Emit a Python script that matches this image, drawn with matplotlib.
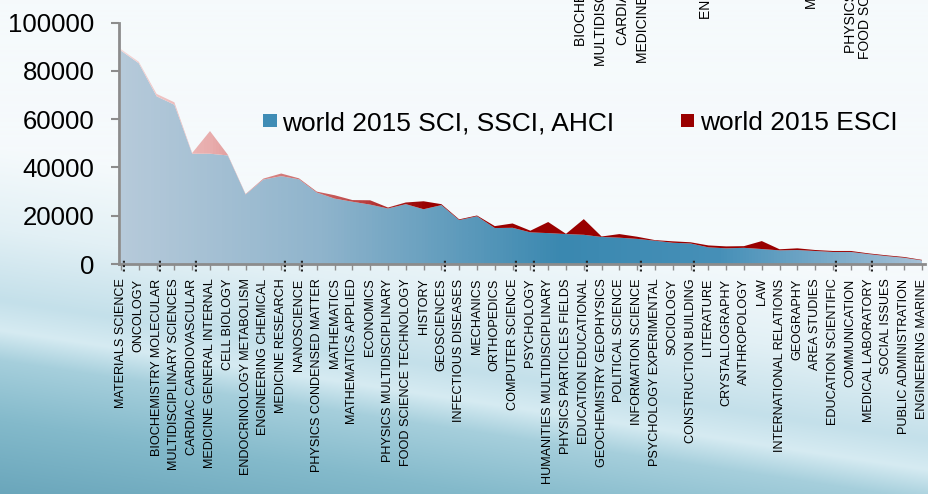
import numpy as np
import matplotlib

matplotlib.use("Agg")
import matplotlib.pyplot as plt
from matplotlib.colors import LinearSegmentedColormap, to_rgb
from matplotlib.patches import Rectangle

plt.rcParams["font.family"] = ["Liberation Sans", "DejaVu Sans"]

categories = [
    "MATERIALS SCIENCE…", "ONCOLOGY", "BIOCHEMISTRY MOLECULAR…",
    "MULTIDISCIPLINARY SCIENCES", "CARDIAC CARDIOVASCULAR…",
    "MEDICINE GENERAL INTERNAL", "CELL BIOLOGY", "ENDOCRINOLOGY METABOLISM",
    "ENGINEERING CHEMICAL", "MEDICINE RESEARCH…", "NANOSCIENCE…",
    "PHYSICS CONDENSED MATTER", "MATHEMATICS", "MATHEMATICS APPLIED",
    "ECONOMICS", "PHYSICS MULTIDISCIPLINARY", "FOOD SCIENCE TECHNOLOGY",
    "HISTORY", "GEOSCIENCES…", "INFECTIOUS DISEASES", "MECHANICS",
    "ORTHOPEDICS", "COMPUTER SCIENCE…", "PSYCHOLOGY…",
    "HUMANITIES MULTIDISCIPLINARY", "PHYSICS PARTICLES FIELDS",
    "EDUCATION EDUCATIONAL…", "GEOCHEMISTRY GEOPHYSICS", "POLITICAL SCIENCE",
    "INFORMATION SCIENCE…", "PSYCHOLOGY EXPERIMENTAL", "SOCIOLOGY",
    "CONSTRUCTION BUILDING…", "LITERATURE", "CRYSTALLOGRAPHY", "ANTHROPOLOGY",
    "LAW", "INTERNATIONAL RELATIONS", "GEOGRAPHY", "AREA STUDIES",
    "EDUCATION SCIENTIFIC…", "COMMUNICATION", "MEDICAL LABORATORY…",
    "SOCIAL ISSUES", "PUBLIC ADMINISTRATION", "ENGINEERING MARINE",
]
sci_values = [
    88400, 83200, 69500, 66000, 45700, 45700, 45000, 28800, 35000, 36400,
    35100, 29600, 27100, 25800, 24600, 23000, 24800, 22700, 24400, 18200,
    19800, 14900, 15000, 13100, 12800, 12400, 12100, 11200, 10900, 10400,
    9650, 8800, 8500, 6900, 6500, 6700, 6200, 5650, 5800, 5400,
    5000, 5000, 4100, 3300, 2600, 1500,
]
esci_values = [
    600, 600, 1000, 1000, 300, 9400, 300, 200, 400, 1100,
    400, 400, 1400, 700, 1800, 400, 700, 3300, 400, 300,
    300, 800, 1800, 700, 4600, 100, 6500, 200, 1500, 900,
    250, 600, 500, 800, 800, 700, 3300, 450, 700, 400,
    400, 400, 300, 300, 300, 200,
]
y_ticks = [0, 20000, 40000, 60000, 80000, 100000]
series_names = ["world 2015 SCI, SSCI, AHCI", "world 2015 ESCI"]
# labels of a neighbouring chart, cut off by the top edge of the picture
top_labels = [
    "BIOCHEMISTRY MOLECULAR BIOLOGY", "MULTIDISCIPLINARY SCIENCES",
    "CARDIAC CARDIOVASCULAR SYSTEMS", "MEDICINE GENERAL INTERNAL",
    "ENGINEERING CHEMICAL", "MATHEMATICS", "PHYSICS MULTIDISCIPLINARY",
    "FOOD SCIENCE TECHNOLOGY",
]

W, H = 929, 494
fig = plt.figure(figsize=(W / 100, H / 100), dpi=100)

# slide-like background: pale at the top, teal towards the bottom
bg = fig.add_axes([0, 0, 1, 1], zorder=0)
bg.axis("off")
yy, xx = np.mgrid[0:H, 0:W]
s = yy - 0.15 * xx
stop_pos = [150, 230, 300, 330, 360, 420, 494]
stop_col = ["#f5fafc", "#e2f0f5", "#c4e0ea", "#d6ebf2", "#a6cfdc", "#84bacb", "#6aa6bb"]
img = np.zeros((H, W, 3))
for c in range(3):
    img[..., c] = np.interp(s, stop_pos, [to_rgb(col)[c] for col in stop_col])
bg.imshow(img, extent=(0, W, H, 0), aspect="auto")
bg.set_xlim(0, W)
bg.set_ylim(H, 0)

ax = fig.add_axes([119 / W, (H - 264) / H, (925 - 119) / W, (264 - 22.7) / H], zorder=1)
ax.patch.set_alpha(0)

x = np.arange(len(categories))
sci = np.array(sci_values, dtype=float)
total = sci + np.array(esci_values, dtype=float)

blue_cmap = LinearSegmentedColormap.from_list(
    "blue", [(0, "#b6cada"), (0.25, "#8fb4cc"), (0.55, "#3a88b0"),
             (0.75, "#4690b8"), (1.0, "#a4c0d6")])
red_cmap = LinearSegmentedColormap.from_list(
    "red", [(0, "#f4d4d4"), (0.11, "#e8acac"), (0.29, "#bf4a4a"),
            (0.38, "#990000"), (1.0, "#990000")])

grad = np.linspace(0, 1, 256)[None, :]
for lower, upper, cmap in [(np.zeros_like(sci), sci, blue_cmap), (sci, total, red_cmap)]:
    poly = ax.fill_between(x, lower, upper, facecolor="none", edgecolor="none")
    im = ax.imshow(grad, cmap=cmap, extent=(x[0], x[-1], 0, 100000),
                   aspect="auto", origin="lower", zorder=2, interpolation="bilinear")
    im.set_clip_path(poly.get_paths()[0], transform=ax.transData)

step = 45 / (922 - 121)
ax.set_xlim(-2 * step, len(categories) - 1 + 3 * step)
ax.set_ylim(0, 100000)

for side in ["top", "right"]:
    ax.spines[side].set_visible(False)
for side in ["left", "bottom"]:
    ax.spines[side].set_color("#8c8c8c")
    ax.spines[side].set_linewidth(2)
    ax.spines[side].set_zorder(3)

ax.set_yticks(y_ticks)
ax.set_yticklabels([str(v) for v in y_ticks])
ax.tick_params(axis="y", length=6, width=1.5, color="#8c8c8c", pad=11.5, labelsize=18.5)

ax.set_xticks(x)
ax.set_xticklabels([c.rstrip("…") for c in categories], rotation=90,
                   ha="center", va="top", fontsize=9.1)
ax.tick_params(axis="x", length=4, width=1, color="#8c8c8c", pad=6.5)
# the truncation dots of the cut labels sit on the axis line
for i, lab in enumerate(categories):
    if lab.endswith("…"):
        ax.text(i, 0, "…", rotation=90, ha="center", va="center",
                fontsize=10, fontweight="bold", color="#222222",
                zorder=6, clip_on=False)

# legend, drawn by hand to sit where the original has it
for (lx, tx), name, col in zip([(263, 282), (681, 700)], series_names, ["#3f8db6", "#990000"]):
    fig.patches.append(Rectangle((lx / W, (H - 127.5) / H), 13.5 / W, 13.5 / H,
                                 transform=fig.transFigure, facecolor=col,
                                 edgecolor="none", zorder=4))
    fig.text(tx / W, (H - 130) / H, name, fontsize=19, va="baseline", ha="left", zorder=4)

for (px, pb), lab in zip([(581, 46), (601, 66), (623, 45), (643, 63),
                          (706, 19), (811, 8), (851, 53), (865, 59)], top_labels):
    fig.text(px / W, 1 - pb / H, lab, rotation=90, ha="center", va="bottom",
             fontsize=10, zorder=4)

fig.savefig("out.png", dpi=100)
plt.close(fig)
